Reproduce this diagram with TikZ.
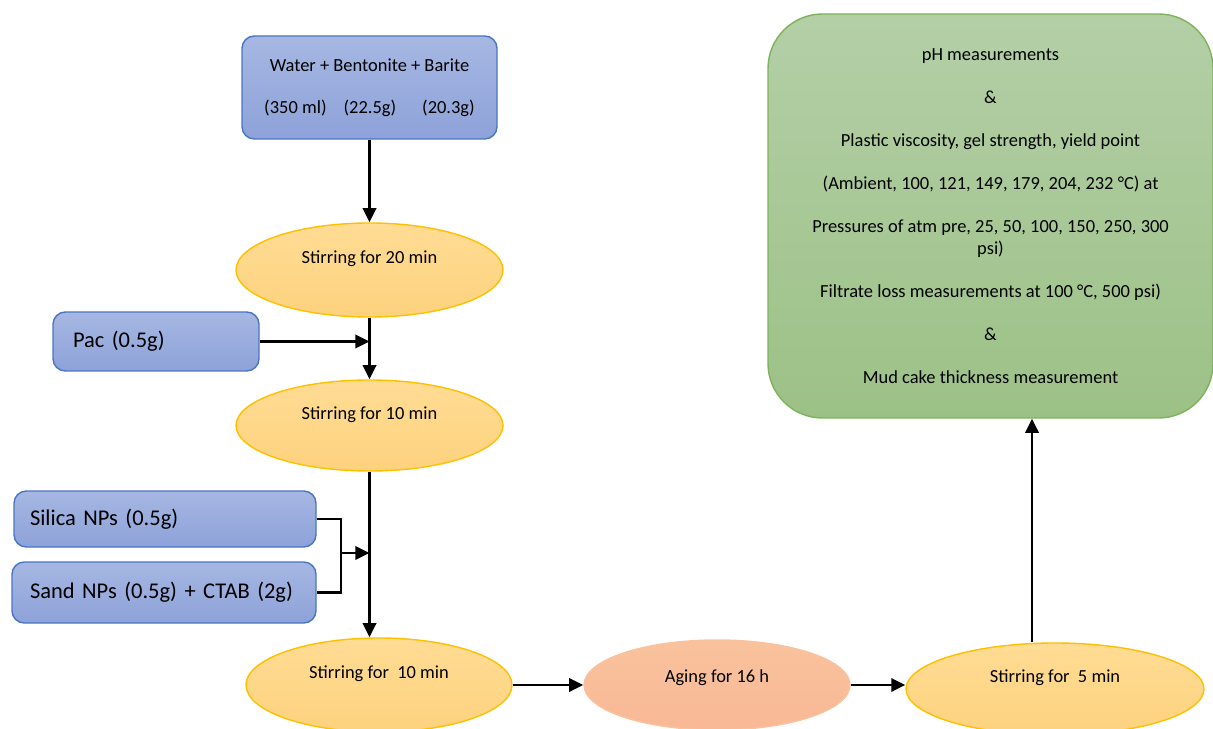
\documentclass[tikz,border=0pt]{standalone}
\usepackage{fontspec}
\setmainfont{Carlito}
\usetikzlibrary{shapes.geometric,arrows.meta}
\newcommand\pxu{0.2mm}

\definecolor{mixline}{HTML}{4A74C4}
\definecolor{mixtop}{HTML}{A6B7E2}
\definecolor{mixbot}{HTML}{8DA2D9}
\definecolor{stirline}{HTML}{FFC000}
\definecolor{stirtop}{HTML}{FFDC94}
\definecolor{stirbot}{HTML}{FDD27E}
\definecolor{agefill}{HTML}{F9C29D}
\definecolor{testline}{HTML}{7DB35A}
\definecolor{testtop}{HTML}{B4CFA7}
\definecolor{testbot}{HTML}{9CC186}

\begin{document}
\begin{tikzpicture}[
x=\pxu,y=-\pxu,
mixbox/.style={rectangle,rounded corners=7pt,draw=mixline,line width=0.8pt,
  top color=mixtop,bottom color=mixbot,font=\fontsize{12.8}{15}\selectfont,align=left},
stirnode/.style={ellipse,draw=stirline,line width=0.8pt,inner sep=0pt,
  top color=stirtop,bottom color=stirbot,font=\fontsize{10.5}{12}\selectfont,
  text height=7pt,text depth=14pt},
agenode/.style={stirnode,draw=agefill,top color=agefill,bottom color=agefill!95!red,text depth=10pt},
flow/.style={black,line width=1.6pt,-{Triangle[length=8pt,width=7.5pt]}},
joint/.style={black,line width=1.3pt}
]
\useasboundingbox (0,0) rectangle (1213,729);
\clip (0,0) rectangle (1213,729);

% ingredients
\node (water) at (369.5,87.5) [mixbox,minimum width=255*\pxu,minimum height=103*\pxu,
  align=center,font=\fontsize{10.5}{12.5}\selectfont]
  {Water + Bentonite + Barite\\[11.3pt](350 ml)\hspace{3.4mm}(22.5g)\hspace{5.2mm}(20.3g)};
\node (pac) at (156,341.5) [mixbox,minimum height=59*\pxu,inner xsep=20*\pxu,text width=166*\pxu] {Pac (0.5g)};
\node (silica) at (165,519) [mixbox,minimum height=56*\pxu,inner xsep=16*\pxu,text width=270*\pxu] {Silica NPs (0.5g)};
\node (sand) at (164,592.5) [mixbox,minimum height=61*\pxu,inner xsep=12*\pxu,text width=280*\pxu] {\hspace{1.2mm}Sand NPs (0.5g) + CTAB (2g)};

% steps
\node (stirA) at (369.5,270) [stirnode,minimum width=267*\pxu,minimum height=94*\pxu] {Stirring for 20 min};
\node (stirB) at (369.5,425.5) [stirnode,minimum width=267*\pxu,minimum height=91*\pxu] {Stirring for 10 min};
\node (stirC) at (379,685) [stirnode,minimum width=266*\pxu,minimum height=94*\pxu] {Stirring for\ \ 10 min};
\node (aging) at (717,685) [agenode,minimum width=266*\pxu,minimum height=90*\pxu] {Aging for 16 h};
\node (stirD) at (1055,689) [stirnode,minimum width=298*\pxu,minimum height=92*\pxu] {Stirring for\ \ 5 min};

% tests
\node (tests) at (990.5,216) [rectangle,rounded corners=31pt,draw=testline,line width=0.8pt,
  top color=testtop,bottom color=testbot,minimum width=445*\pxu,minimum height=404*\pxu,
  align=center,font=\fontsize{10.5}{12.5}\selectfont]
  {pH measurements\\[12pt]
   \&\\[12pt]
   Plastic viscosity, gel strength, yield point\\[12pt]
   (Ambient, 100, 121, 149, 179, 204, 232 °C) at\\[12pt]
   Pressures of atm pre, 25, 50, 100, 150, 250, 300\\
   psi)\\[12pt]
   Filtrate loss measurements at 100 °C, 500 psi)\\[12pt]
   \&\\[12pt]
   Mud cake thickness measurement};

% connectors
\coordinate (fork) at (341,553);
\draw[flow] (water.south) -- (water.south |- stirA.north);
\draw[flow] (stirA.south) -- (stirA.south |- stirB.north);
\draw[flow] (pac.east) -- (pac.east -| stirA.south);
\draw[flow] (stirB.south) -- (stirB.south |- stirC.north);
\draw[joint] (silica.east) -| (fork) |- (sand.east);
\draw[flow] (fork) -- (fork -| stirB.south);
\draw[flow] (stirC.east) -- (stirC.east -| aging.west);
\draw[flow] (aging.east) -- (aging.east -| stirD.west);
\draw[flow] ([xshift=-23*\pxu]stirD.north) -- ([xshift=-23*\pxu]stirD.north |- tests.south);

\end{tikzpicture}
\end{document}
